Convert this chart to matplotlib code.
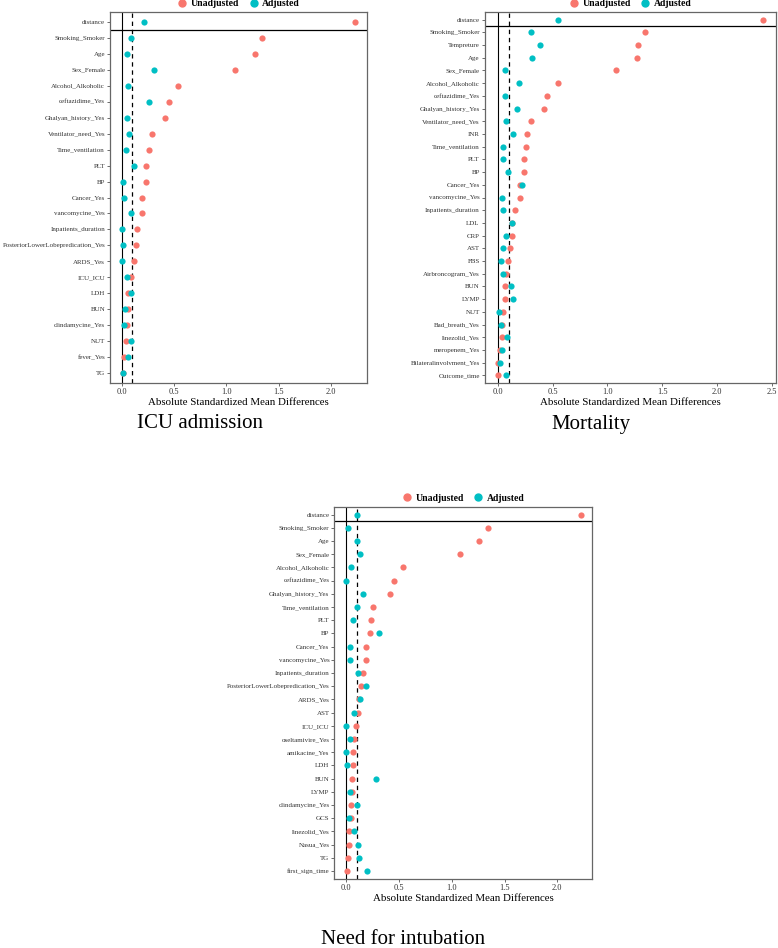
import matplotlib
matplotlib.use("Agg")
import matplotlib.pyplot as plt
from matplotlib.lines import Line2D

plt.rcParams['font.family'] = ['Liberation Serif', 'DejaVu Serif']

RED = "#F8766D"
CYAN = "#00BFC4"

# ---------------- data ----------------
icu_vars = ["distance", "Smoking_Smoker", "Age", "Sex_Female", "Alcohol_Alkoholic",
            "ceftazidime_Yes", "Ghalyan_history_Yes", "Ventilator_need_Yes",
            "Time_ventilation", "PLT", "BP", "Cancer_Yes", "vancomycine_Yes",
            "Inpatients_duration", "PosteriorLowerLobepredication_Yes", "ARDS_Yes",
            "ICU_ICU", "LDH", "BUN", "clindamycine_Yes", "NUT", "fever_Yes", "TG"]
icu_unadj = [2.23, 1.34, 1.27, 1.08, 0.54, 0.45, 0.41, 0.29, 0.26, 0.23, 0.23, 0.19,
             0.19, 0.15, 0.14, 0.12, 0.09, 0.06, 0.06, 0.05, 0.04, 0.02, 0.01]
icu_adj = [0.21, 0.09, 0.05, 0.31, 0.06, 0.26, 0.05, 0.07, 0.04, 0.12, 0.01, 0.02,
           0.09, 0.00, 0.01, 0.00, 0.05, 0.09, 0.03, 0.02, 0.09, 0.06, 0.01]

mort_vars = ["distance", "Smoking_Smoker", "Tempreture", "Age", "Sex_Female",
             "Alcohol_Alkoholic", "ceftazidime_Yes", "Ghalyan_history_Yes",
             "Ventilator_need_Yes", "INR", "Time_ventilation", "PLT", "BP", "Cancer_Yes",
             "vancomycine_Yes", "Inpatients_duration", "LDL", "CRP", "AST", "FBS",
             "Airbroncogram_Yes", "BUN", "LYMP", "NUT", "Bad_breath_Yes", "linezolid_Yes",
             "meropenem_Yes", "Bilateralinvolvment_Yes", "Outcome_time"]
mort_unadj = [2.42, 1.34, 1.28, 1.27, 1.08, 0.55, 0.45, 0.42, 0.30, 0.27, 0.26, 0.24,
              0.24, 0.20, 0.20, 0.16, 0.13, 0.13, 0.11, 0.09, 0.07, 0.06, 0.06, 0.05,
              0.04, 0.04, 0.02, 0.00, 0.00]
mort_adj = [0.55, 0.30, 0.38, 0.31, 0.06, 0.19, 0.06, 0.17, 0.07, 0.14, 0.05, 0.05,
            0.09, 0.22, 0.04, 0.05, 0.13, 0.07, 0.05, 0.03, 0.05, 0.12, 0.14, 0.01,
            0.03, 0.08, 0.04, 0.02, 0.07]

int_vars = ["distance", "Smoking_Smoker", "Age", "Sex_Female", "Alcohol_Alkoholic",
            "ceftazidime_Yes", "Ghalyan_history_Yes", "Time_ventilation", "PLT", "BP",
            "Cancer_Yes", "vancomycine_Yes", "Inpatients_duration",
            "PosteriorLowerLobepredication_Yes", "ARDS_Yes", "AST", "ICU_ICU",
            "oseltamivire_Yes", "amikacine_Yes", "LDH", "BUN", "LYMP", "clindamycine_Yes",
            "GCS", "linezolid_Yes", "Nasua_Yes", "TG", "first_sign_time"]
int_unadj = [2.22, 1.34, 1.26, 1.08, 0.54, 0.45, 0.42, 0.26, 0.24, 0.23, 0.19, 0.19,
             0.16, 0.145, 0.12, 0.11, 0.09, 0.08, 0.07, 0.07, 0.06, 0.06, 0.05, 0.045,
             0.03, 0.03, 0.02, 0.01]
int_adj = [0.10, 0.02, 0.10, 0.13, 0.05, 0.00, 0.16, 0.10, 0.07, 0.31, 0.04, 0.04,
           0.11, 0.19, 0.13, 0.08, 0.00, 0.04, 0.00, 0.01, 0.28, 0.04, 0.10, 0.03,
           0.08, 0.11, 0.12, 0.20]

legend_labels = ["Unadjusted", "Adjusted"]
xlabel = "Absolute Standardized Mean Differences"
titles = ["ICU admission", "Mortality", "Need for intubation"]

W, H = 778, 948
fig = plt.figure(figsize=(W / 100, H / 100), dpi=100)


def px_axes(left, top, right, bottom):
    return fig.add_axes([left / W, 1 - bottom / H, (right - left) / W, (bottom - top) / H])


def love_plot(ax, names, unadj, adj, xticks):
    n = len(names)
    ypos = list(range(n - 1, -1, -1))
    xmax = max(max(unadj), max(adj))
    pad = 0.05 * xmax
    ax.set_xlim(-pad, xmax + pad)
    ax.set_ylim(-0.6, n - 0.4)
    ax.axvline(0, color="black", lw=0.8, zorder=1)
    ax.axvline(0.1, color="black", lw=0.9, ls=(0, (3.5, 3)), zorder=1)
    ax.axhline(n - 1.5, color="black", lw=0.9, zorder=1)
    ax.scatter(unadj, ypos, s=20, color=RED, zorder=3, linewidths=0)
    ax.scatter(adj, ypos, s=20, color=CYAN, zorder=4, linewidths=0)
    ax.set_yticks(ypos)
    ax.set_yticklabels(names, fontsize=5.0, color="#333333")
    ax.set_xticks(xticks)
    ax.set_xticklabels([f"{t:.1f}" for t in xticks], fontsize=6, color="#333333")
    ax.tick_params(length=2.2, width=0.6, color="#555555", pad=1.3)
    for sp in ax.spines.values():
        sp.set_color("#666666")
        sp.set_linewidth(0.9)
    ax.set_xlabel(xlabel, fontsize=7.8, labelpad=1.5)
    handles = [Line2D([], [], marker="o", ls="", color=RED, markersize=5),
               Line2D([], [], marker="o", ls="", color=CYAN, markersize=5)]
    ax.legend(handles, legend_labels, loc="lower center", bbox_to_anchor=(0.5, 1.0),
              ncol=2, frameon=False, prop={"weight": "bold", "size": 7},
              handletextpad=0.4, columnspacing=1.0, borderaxespad=0.0,
              handlelength=1.0)
    return ax


ax1 = px_axes(110, 12, 367, 383)
love_plot(ax1, icu_vars, icu_unadj, icu_adj, [0.0, 0.5, 1.0, 1.5, 2.0])

ax2 = px_axes(484.7, 12, 776, 383)
love_plot(ax2, mort_vars, mort_unadj, mort_adj, [0.0, 0.5, 1.0, 1.5, 2.0, 2.5])

ax3 = px_axes(334.3, 506.7, 592.3, 879)
love_plot(ax3, int_vars, int_unadj, int_adj, [0.0, 0.5, 1.0, 1.5, 2.0])

fig.text(200 / W, 1 - 424 / H, titles[0], fontsize=15, ha="center", va="center")
fig.text(591 / W, 1 - 424 / H, titles[1], fontsize=15, ha="center", va="center")
fig.text(403.5 / W, 1 - 939 / H, titles[2], fontsize=15, ha="center", va="center")

fig.savefig("out.png", dpi=100)
